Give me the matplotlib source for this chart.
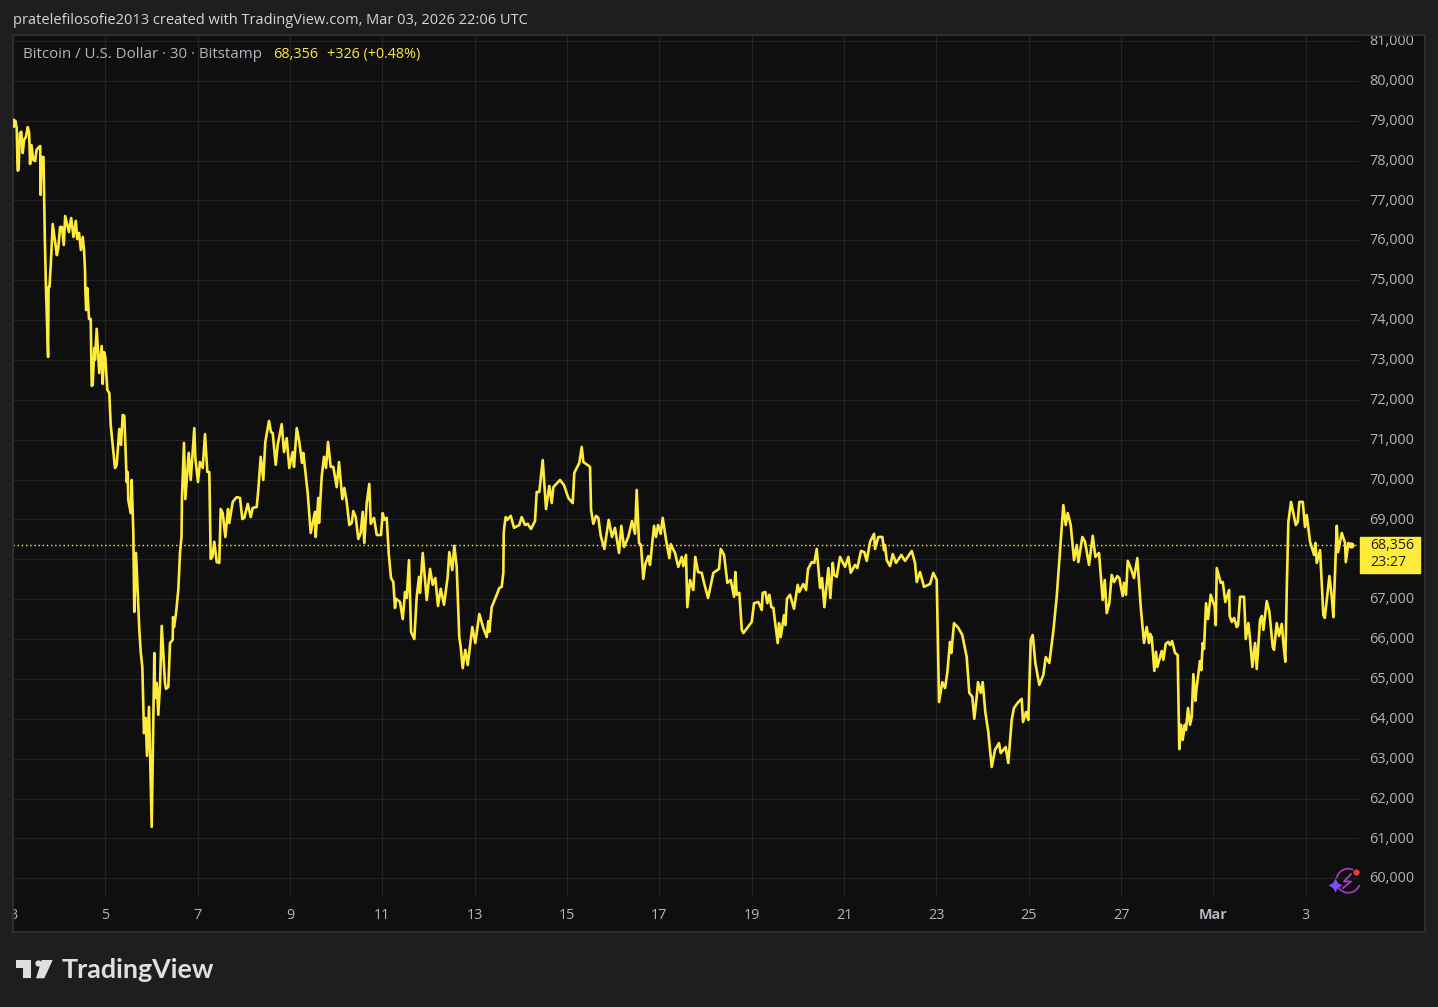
import numpy as np
import matplotlib
matplotlib.use("Agg")
import matplotlib.pyplot as plt
from matplotlib.patches import Polygon, FancyBboxPatch
from matplotlib.lines import Line2D
from matplotlib.transforms import ScaledTranslation

W, H = 1438, 1007
FONT = "Open Sans"
plt.rcParams["font.family"] = [FONT, "DejaVu Sans"]

# day of February 2026 (29 = 1 March), 30-minute close prices
days = [3.01,3.02,3.05,3.08,3.10,3.12,3.15,3.18,3.21,3.24,3.28,3.32,3.35,3.37,3.40,3.44,3.48,3.51,3.56,3.59,3.595,3.62,3.66,3.69,3.715,3.76,3.77,3.79,3.82,3.86,3.95,3.98,4.02,4.06,4.10,4.13,4.21,4.26,4.31,4.36,4.39,4.43,4.47,4.51,
4.538,4.56,4.566,4.585,4.609,4.646,4.683,4.705,4.726,4.761,4.776,4.813,4.869,4.921,4.943,4.971,4.999,5.043,5.086,5.116,5.209,5.246,5.302,5.339,5.376,5.411,5.463,5.484,5.497,5.549,5.571,5.606,5.627,5.664,5.736,5.766,5.801,5.837,5.874,5.902,5.946,6.004,6.061,6.076,6.113,6.147,6.184,6.221,6.292,6.314,6.364,6.401,6.459,6.466,6.487,6.531,6.580,6.617,6.650,6.660,6.704,6.732,6.806,6.849,6.927,6.949,
7.007,7.050,7.109,7.159,7.209,7.252,7.282,7.317,7.360,7.412,7.468,7.499,7.542,7.599,7.657,7.685,7.759,7.845,7.917,7.967,8.010,8.084,8.149,8.192,8.278,8.313,8.365,8.421,8.464,8.545,8.588,8.625,8.690,8.733,8.820,8.870,8.928,8.984,9.058,9.086,9.145,9.201,9.260,9.288,9.383,9.448,9.541,9.556,9.613,9.628,9.686,9.736,9.779,9.823,9.881,9.937,
10.011,10.061,10.133,10.176,10.228,10.284,10.336,10.371,10.423,10.479,10.531,10.574,10.609,10.661,10.717,10.748,10.819,10.878,10.971,11.007,11.042,11.094,11.137,11.187,11.237,11.274,11.296,11.382,11.441,11.491,11.528,11.577,11.621,11.692,11.744,11.794,11.815,11.874,11.961,12.032,12.090,12.147,12.205,12.264,12.335,12.415,12.450,12.515,12.558,12.610,12.666,12.697,12.740,12.797,12.849,12.948,
13.013,13.100,13.186,13.260,13.295,13.316,13.368,13.477,13.533,13.585,13.620,13.629,13.646,13.672,13.707,13.780,13.852,13.966,14.018,14.090,14.148,14.220,14.306,14.343,14.400,14.473,14.545,14.616,14.668,14.703,14.848,14.934,15.028,15.123,15.158,15.266,15.318,15.353,15.498,15.520,15.569,15.628,15.678,15.730,15.808,15.903,15.974,
16.039,16.126,16.176,16.234,16.327,16.407,16.473,16.509,16.559,16.602,16.652,16.695,16.760,16.797,16.884,16.927,16.971,17.029,17.072,17.144,17.216,17.246,17.339,17.410,17.484,17.519,17.577,17.605,17.664,17.735,17.778,17.837,17.917,17.967,18.054,18.169,18.292,18.329,18.401,18.472,18.546,18.617,18.646,18.676,18.732,18.785,18.819,19.0,19.050,19.143,19.217,
19.238,19.295,19.338,19.381,19.425,19.468,19.563,19.591,19.628,19.700,19.728,19.764,19.829,19.916,19.996,20.031,20.118,20.176,20.220,20.300,20.356,20.408,20.480,20.523,20.573,20.660,20.703,20.755,20.783,20.841,20.913,21.021,21.093,21.144,21.238,21.287,21.367,21.439,21.491,21.563,21.650,21.671,21.742,21.829,21.866,21.887,21.924,21.996,22.054,22.126,22.240,22.320,22.466,22.537,22.574,22.645,22.732,22.862,22.933,
23.007,23.057,23.128,23.187,23.236,23.295,23.323,23.381,23.475,23.561,23.656,23.713,23.778,23.821,23.873,23.901,23.960,24.003,24.059,24.124,24.198,24.269,24.356,24.392,24.501,24.557,24.631,24.680,24.774,24.847,24.876,24.941,24.991,25.043,25.086,25.143,25.229,25.316,25.368,25.446,25.533,25.606,25.749,25.801,25.844,25.909,25.981,26.040,26.075,26.161,26.219,26.306,26.386,26.443,26.522,
26.602,26.646,26.689,26.745,26.797,26.847,26.919,26.962,27.035,27.063,27.107,27.144,27.209,27.280,27.352,27.426,27.497,27.555,27.605,27.627,27.664,27.720,27.757,27.785,27.881,27.915,27.967,28.023,28.060,28.104,28.169,28.226,28.261,28.298,28.335,28.378,28.406,28.450,28.493,28.530,28.565,28.608,28.638,28.709,28.738,28.768,28.796,28.840,28.883,28.942,
29.029,29.050,29.072,29.159,29.202,29.258,29.340,29.351,29.398,29.447,29.506,29.534,29.577,29.664,29.701,29.757,29.794,29.844,29.902,29.938,30.010,30.047,30.082,30.155,30.212,30.285,30.313,30.371,30.421,30.480,30.514,30.558,30.588,30.623,30.681,30.783,30.826,30.861,30.935,30.984,31.021,31.093,31.180,31.208,31.238,31.310,31.381,31.412,31.512,31.563,31.598,31.672,31.700,31.780,31.851,31.867,31.923,31.975]

prices = [79020,78850,79000,78820,77750,77765,78690,78725,78190,78520,78590,78840,78690,77915,78390,78015,77990,78265,78340,78365,77140,78090,78090,76010,74755,73075,74830,74830,75430,76410,75630,75810,76335,76335,75885,76610,76210,76560,76085,76490,76035,76185,75760,76085,
75760,75260,74780,74250,74805,74030,74030,72350,72370,73300,73000,73780,72670,73350,72400,73200,73075,72250,72170,71370,70290,70370,71270,70870,71620,71600,69940,70190,69490,69160,69990,68660,66680,68160,66230,65680,65300,63640,64020,63070,64300,61290,65650,64520,64900,64100,64850,66330,64900,64750,64800,65900,65980,66550,66300,66650,67230,68160,68560,69560,70920,69510,70670,69990,71290,70540,
69940,70440,70290,71140,70190,70190,68010,68060,68440,67930,67910,69260,69160,68560,69260,68910,69440,69560,69540,69010,69040,69390,69060,69290,69310,69740,70570,69990,70940,71470,71190,71170,70370,70870,71390,70690,71040,70290,70690,70320,71290,70940,70420,70670,69660,68660,69190,68560,69540,68910,70070,70570,70290,70940,70320,70320,
69810,70440,69510,69790,69440,68860,68910,69210,69060,68510,68660,69190,68410,69410,69890,68890,69040,68610,68610,69160,68990,69040,68160,67530,67430,66780,67010,66930,66500,67180,67030,67980,66180,66000,67060,67560,67160,68160,66980,67760,67360,67530,66830,67260,66860,67560,68180,67730,68340,67810,66050,65800,65270,65730,65350,66300,
65900,66630,66280,66050,66450,66180,66800,67110,67280,67310,67660,68660,68860,69060,68990,69090,68790,68860,69060,68860,68890,68760,68960,69690,69690,70490,69260,69840,69410,69810,69990,69860,69540,69410,70170,70420,70820,70440,70320,69240,68890,69090,69040,68590,68260,68990,68560,
68790,68160,68840,68310,68560,68960,68640,69740,68410,68360,67510,67880,68080,67860,68840,68560,68860,68640,69040,68490,68030,68380,68160,67810,68060,67830,68110,66800,67480,67230,68060,67680,67660,67410,67030,67660,67760,68260,68110,67410,67480,67060,67680,67110,67160,66230,66150,66430,66900,66930,66730,
67160,67180,66900,67110,66800,66780,65900,66400,66050,66600,66350,67010,67110,66760,67360,67180,67380,67230,67760,67930,67910,68260,67280,67530,66800,67780,67030,67910,67610,67560,68060,67810,68060,67660,67860,67780,68210,68180,67960,68440,68640,68260,68560,68560,68230,68360,67980,67830,68130,67910,68110,67960,68210,67910,67430,67680,67310,67380,67660,
67480,64420,64920,64770,65150,65930,65650,66400,66280,66100,65550,64650,64550,64000,64550,64920,64650,64920,64170,63670,62790,63220,63390,63140,63290,62890,63970,64270,64420,64500,63920,64170,63970,65980,66100,65400,64850,65100,65550,65400,66200,67060,69360,68860,69160,68860,67980,68360,67930,68560,68440,67860,68590,68060,68160,
66980,67480,66650,66900,67610,67430,67580,67530,67080,67410,67110,67960,67780,67530,68030,66800,65900,66300,65900,66130,66050,65200,65680,65300,65700,65480,65880,65930,65850,65950,65650,65600,63240,63850,63470,63850,63720,64270,63850,64050,65120,64450,64800,65450,65220,65900,65750,66900,66500,67110,
66800,66350,67780,67410,67430,66930,67230,66580,66430,66530,66300,66350,67060,67060,66000,66400,65980,65300,65900,65250,66480,66580,66230,66950,66680,65800,65730,66400,66080,66380,65900,65430,67230,68940,69440,68860,68940,69440,69440,68810,69110,68440,68110,68410,67910,68230,66600,66530,67580,67060,66550,68840,68180,68660,68410,67930,68410,68356]

last_price = 68356
price_ticks = list(range(60000, 81001, 1000))
# the 68,000 label sits behind the last-price tag in the reference
price_labels = ["" if v == 68000 else f"{v:,}" for v in price_ticks]
day_ticks = [3, 5, 7, 9, 11, 13, 15, 17, 19, 21, 23, 25, 27, 29, 31]
day_labels = ["3", "5", "7", "9", "11", "13", "15", "17", "19", "21", "23", "25", "27", "Mar", "3"]

BG = "#1e1e1e"
PANEL = "#0f0f0f"
GRID = "#232323"
BORDER = "#2e2e2e"
YEL = "#ffeb3b"
TXT = "#b2b5be"

def fx(x): return x / W
def fy(y): return 1 - y / H

fig = plt.figure(figsize=(W / 100, H / 100), dpi=100, facecolor=BG)
ax = fig.add_axes([fx(13), fy(931.5), (1424.5 - 13) / W, (931.5 - 35) / H], facecolor=PANEL)
ax.set_xlim(3.0, 3 + (1424.5 - 13) / 46.17)
ax.set_ylim(81000 - (931.5 - 41) / 0.03987, 81000 + 6 / 0.03987)

for s in ax.spines.values():
    s.set_color(BORDER)
    s.set_linewidth(1.5)

# grid stops at the price and time scales
grid_right = 3 + (1358 - 13) / 46.17
grid_bottom = 81000 - (896 - 41) / 0.03987
ax.hlines(price_ticks, 3.0, grid_right, color=GRID, lw=0.8, zorder=1)
ax.vlines(day_ticks[1:], grid_bottom, ax.get_ylim()[1], color=GRID, lw=0.8, zorder=1)

ax.hlines(last_price, 3.0, grid_right, color=YEL, lw=1, ls=(0, (1, 2)), zorder=2)
ax.plot(days, prices, color=YEL, lw=1.9, solid_joinstyle="round", zorder=3)
ax.plot(days[-1], prices[-1], "o", color=YEL, ms=4.5, mew=0, zorder=4)

ax.yaxis.tick_right()
ax.set_yticks(price_ticks)
ax.set_yticklabels(price_labels, fontsize=10.4, color=TXT)
ax.tick_params(axis="y", length=0, pad=-40)
up = ScaledTranslation(0, 1.0 / 72, fig.dpi_scale_trans)
for lab in ax.get_yticklabels():
    lab.set_transform(lab.get_transform() + up)
ax.set_xticks(day_ticks)
ax.set_xticklabels(day_labels, fontsize=10.4, color=TXT)
ax.tick_params(axis="x", length=0, pad=-17)
for lab, txt in zip(ax.get_xticklabels(), day_labels):
    lab.set_clip_on(True)
    lab.set_clip_box(ax.bbox)
    if txt == "Mar":
        lab.set_fontweight("bold")

# header text
fig.text(fx(13), fy(20), "pratelefilosofie2013 created with TradingView.com, Mar 03, 2026 22:06 UTC",
         fontsize=10.55, color="#d6d6d6", va="center", ha="left")
fig.text(fx(23), fy(54.5), "Bitcoin / U.S. Dollar · 30 · Bitstamp", fontsize=10.9, color=TXT, va="center", ha="left")
fig.text(fx(273), fy(54.5), "68,356", fontsize=10.4, color=YEL, va="center", ha="left")
fig.text(fx(327), fy(54.5), "+326 (+0.48%)", fontsize=10.3, color=YEL, va="center", ha="left")

# last price tag
fig.patches.append(FancyBboxPatch((fx(1360), fy(573)), 60 / W, 36 / H, boxstyle="square,pad=0",
                                  transform=fig.transFigure, fc=YEL, ec=YEL, lw=1, zorder=5))
fig.text(fx(1370), fy(554), f"{last_price:,}\n23:27", fontsize=10.2, color="#1f1f12", va="center", ha="left",
         linespacing=1.22, zorder=6)

# TradingView logo
logo = "#dfdfdf"
def poly(pts, color):
    fig.patches.append(Polygon([(fx(a), fy(b)) for a, b in pts], closed=True, transform=fig.transFigure,
                               fc=color, ec="none", zorder=5))
poly([(15.7, 960), (31, 960), (31, 978.3), (23.3, 978.3), (23.3, 967.7), (15.7, 967.7)], logo)
poly([(41.7, 960), (52.7, 960), (44.3, 978.3), (36, 978.3)], logo)
fig.add_artist(Line2D([fx(37.7)], [fy(962.7)], marker="o", ms=4.5, mew=0, color=logo, transform=fig.transFigure))
fig.text(fx(61.5), fy(970), "TradingView", fontsize=19.4, family="Lato", fontweight="bold", color=logo, va="center", ha="left")

# bolt badge
cx, cy, r = 1348.3, 880.7, 12
for a0, a1 in [(70, 165), (215, 335)]:
    t = np.radians(np.linspace(a0, a1, 40))
    fig.add_artist(Line2D(fx(cx + r * np.cos(t)), fy(cy - r * np.sin(t)), color="#9c3fb5", lw=1.3,
                          transform=fig.transFigure))
fig.add_artist(Line2D(fx(np.array([1351, 1344, 1351, 1343])), fy(np.array([874, 881.5, 881.5, 888])),
                      color="#a83fc0", lw=1.3, transform=fig.transFigure))
fig.add_artist(Line2D([fx(1356)], [fy(871.7)], marker="o", ms=4.5, mew=0, color="#f23645", transform=fig.transFigure))
fig.add_artist(Line2D([fx(1335)], [fy(885)], marker=(4, 1, 0), ms=10, mew=0, color="#7c4dff", transform=fig.transFigure))

assert len(days) == len(prices), (len(days), len(prices))
fig.savefig("out.png", dpi=100, facecolor=BG)
